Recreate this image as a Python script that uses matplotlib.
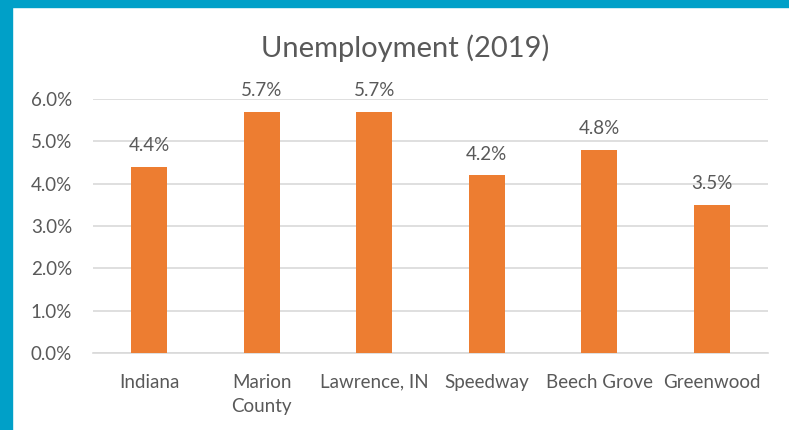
import matplotlib.pyplot as plt
from matplotlib.patches import Rectangle
from matplotlib.ticker import PercentFormatter

# data
places = ['Indiana', 'Marion\nCounty', 'Lawrence, IN', 'Speedway', 'Beech Grove', 'Greenwood']
rates = [4.4, 5.7, 5.7, 4.2, 4.8, 3.5]
yticks = [0, 1, 2, 3, 4, 5, 6]

plt.rcParams['font.family'] = ['Lato', 'DejaVu Sans']
txt = '#595959'
grid = '#D9D9D9'

fig = plt.figure(figsize=(7.89, 4.30), dpi=100)
ax = fig.add_axes([93/789, 1 - 353/430, (768 - 93)/789, (353 - 99)/430])

x = range(len(places))
ax.bar(x, rates, width=0.32, color='#ED7D31', zorder=3)
for i, v in zip(x, rates):
    ax.text(i, v + 0.3, f'{v:.1f}%', ha='center', va='bottom', fontsize=13.5, color=txt)

ax.set_xlim(-0.5, len(places) - 0.5)
ax.set_ylim(0, 6)
ax.set_yticks(yticks)
ax.yaxis.set_major_formatter(PercentFormatter(decimals=1))
ax.set_xticks(list(x))
ax.set_xticklabels(places, fontsize=13.5, color=txt, va='top', linespacing=1.5)
ax.tick_params(axis='y', labelsize=13.5, labelcolor=txt, length=0, pad=15)
ax.tick_params(axis='x', length=0, pad=15)
ax.grid(axis='y', color=grid, linewidth=1.2, zorder=0)
for s in ['top', 'right', 'left']:
    ax.spines[s].set_visible(False)
ax.spines['bottom'].set_color(grid)
ax.spines['bottom'].set_linewidth(1.2)

fig.text(405/789, 1 - 48/430, 'Unemployment (2019)', ha='center', va='center',
         fontsize=21, color=txt)

# blue frame on top and left edges
fig.patches.append(Rectangle((0, 1 - 7/430), 1, 7/430, transform=fig.transFigure,
                             color='#00A0C8', zorder=10))
fig.patches.append(Rectangle((0, 0), 12/789, 1, transform=fig.transFigure,
                             color='#00A0C8', zorder=10))

fig.savefig('out.png', dpi=100)
